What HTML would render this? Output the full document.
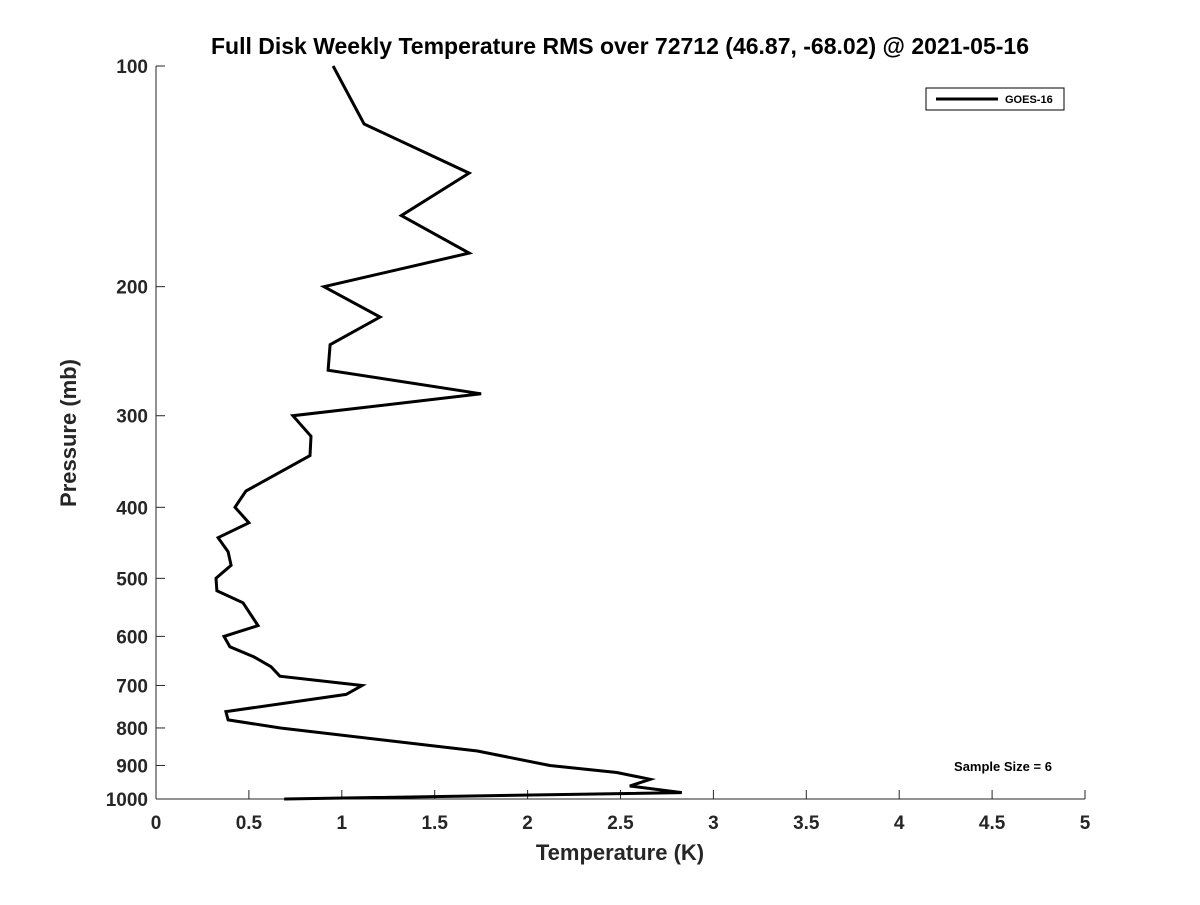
<!DOCTYPE html>
<html><head><meta charset="utf-8"><style>
body{margin:0;background:#fff;}
svg text{font-family:"Liberation Sans","DejaVu Sans",sans-serif;font-weight:bold;fill:#262626;}
</style></head><body>
<svg id="chart" width="1200" height="900" xmlns="http://www.w3.org/2000/svg">
<rect width="1200" height="900" fill="#fff"/>
<text x="620" y="54" text-anchor="middle" font-size="23" style="fill:#000">Full Disk Weekly Temperature RMS over 72712 (46.87, -68.02) @ 2021-05-16</text>
<g id="axes"></g>
<path id="series" fill="none" stroke="#000" stroke-width="3" stroke-linejoin="miter"/>
<g>
<rect x="926" y="88" width="138" height="22" fill="#fff" stroke="#000" stroke-width="1"/>
<line x1="936" y1="99" x2="998" y2="99" stroke="#000" stroke-width="3"/>
<text x="1005" y="103" font-size="11" style="fill:#000">GOES-16</text>
</g>
<text x="1003" y="771" text-anchor="middle" font-size="13" style="fill:#000">Sample Size = 6</text>
<text x="620" y="860" text-anchor="middle" font-size="22">Temperature (K)</text>
<text transform="translate(76,433) rotate(-90)" text-anchor="middle" font-size="22">Pressure (mb)</text>
</svg>
<script>
const temps=[0.953,1.12,1.685,1.32,1.685,0.904,1.206,0.937,0.926,1.75,0.737,0.834,0.829,0.484,0.425,0.5,0.334,0.388,0.404,0.323,0.328,0.468,0.549,0.366,0.398,0.527,0.619,0.667,1.109,1.023,0.376,0.388,0.67,1.73,2.12,2.48,2.66,2.55,2.83,0.69];
const pressures=[100,120,140,160,180,200,220,240,260,280,300,320,340,380,400,420,440,460,480,500,520,540,580,600,620,640,660,680,700,720,760,780,800,860,900,920,940,960,980,1000];
const xTicks=[0,0.5,1,1.5,2,2.5,3,3.5,4,4.5,5];
const xTickLabels=["0","0.5","1","1.5","2","2.5","3","3.5","4","4.5","5"];
const yTicks=[100,200,300,400,500,600,700,800,900,1000];
const yTickLabels=["100","200","300","400","500","600","700","800","900","1000"];
const X0=156,X1=1085,Y0=66,Y1=799;
function xs(t){return X0+(t-0)/(5-0)*(X1-X0);}
function ys(p){return Y0+(Math.log10(p)-2)/(3-2)*(Y1-Y0);}
const ns="http://www.w3.org/2000/svg";
const ax=document.getElementById('axes');
function mk(tag,attrs){const e=document.createElementNS(ns,tag);for(const k in attrs)e.setAttribute(k,attrs[k]);return e;}
let l=mk('line',{x1:X0,y1:Y0,x2:X0,y2:Y1,stroke:'#262626','stroke-width':1});


ax.appendChild(l);
l=mk('line',{x1:X0,y1:Y1,x2:X1,y2:Y1,stroke:'#262626','stroke-width':1});


ax.appendChild(l);
xTicks.forEach((t,i)=>{
 const x=xs(t);
 const tk=mk('line',{x1:x,y1:Y1,x2:x,y2:Y1-9,stroke:'#262626'});
 
 
 ax.appendChild(tk);
 const tx=mk('text',{x:x,y:Y1+30,'text-anchor':'middle','font-size':19});
 
 
 tx.textContent=xTickLabels[i];ax.appendChild(tx);
});
yTicks.forEach((p,i)=>{
 const y=ys(p);
 const tk=mk('line',{x1:X0,y1:y,x2:X0+9,y2:y,stroke:'#262626'});
 
 
 ax.appendChild(tk);
 const tx=mk('text',{x:X0-8,y:y+7,'text-anchor':'end','font-size':19});
 
 
 tx.textContent=yTickLabels[i];ax.appendChild(tx);
});
document.getElementById('series').setAttribute('d',temps.map((t,i)=>(i?'L':'M')+xs(t).toFixed(1)+','+ys(pressures[i]).toFixed(1)).join(' '));
</script>
</body></html>
